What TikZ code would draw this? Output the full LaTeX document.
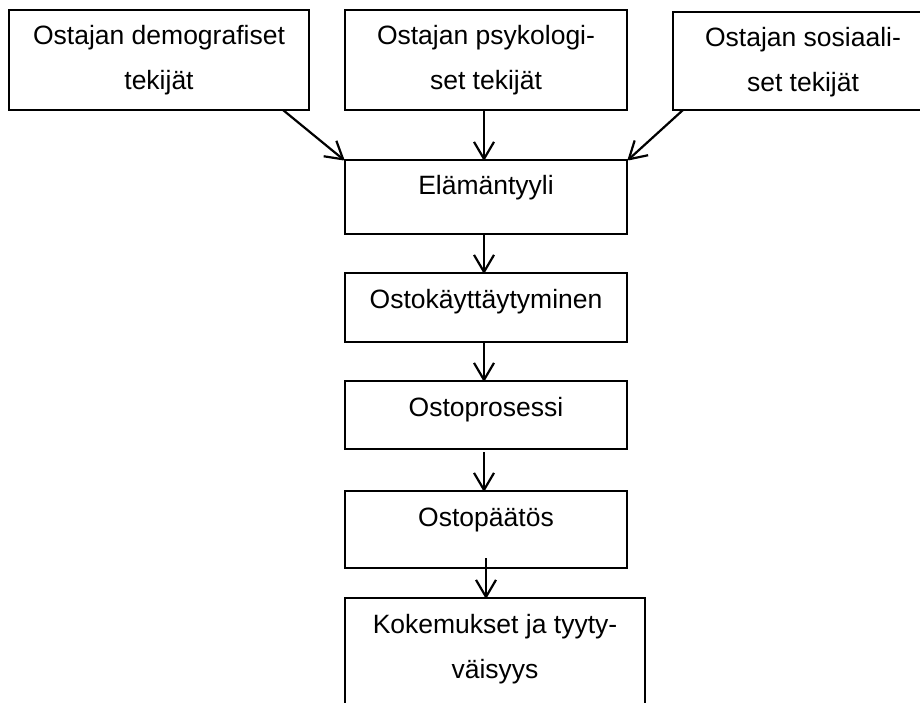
\documentclass[tikz,border=0pt]{standalone}
\usepackage{fontspec}
\setmainfont{Liberation Sans}
\usetikzlibrary{arrows.meta,calc}
\newcommand{\bxtext}[3]{\parbox[t][#2pt][t]{#1pt}{\centering\fontsize{26.5}{45}\selectfont\rule{0pt}{35pt}#3}}
\begin{document}
\begin{tikzpicture}[x=1pt,y=-1pt,
  box/.style={draw=black, line width=1.5pt, inner sep=0pt, outer sep=0pt, anchor=north west},
  conn/.style={line width=2.2pt, -{Straight Barb[length=17pt,width=20pt,line width=2.2pt,line join=round]}}]
\useasboundingbox[fill=white] (0,0) rectangle (920,703);
\node[box] (d) at (9,10) {\bxtext{300}{100}{Ostajan demografiset\\tekijät}};
\node[box] (p) at (345,10) {\bxtext{282}{100}{Ostajan psykologi-\\set tekijät}};
\node[box] (s) at (673,12) {\bxtext{260}{98}{Ostajan sosiaali-\\set tekijät}};
\node[box] (e) at (345,160) {\bxtext{282}{74}{Elämäntyyli}};
\node[box] (ok) at (345,273) {\bxtext{282}{69}{Ostokäyttäytyminen}};
\node[box] (op) at (345,381) {\bxtext{282}{68}{Ostoprosessi}};
\node[box] (opa) at (345,491) {\bxtext{282}{77}{Ostopäätös}};
\node[box] (k) at (345,598) {\bxtext{300}{120}{Kokemukset ja tyyty-\\väisyys}};
\draw[conn] ($(d.south east)+(-26,0)$) -- ($(e.north west)+(-1,0)$);
\draw[conn] ($(p.south)+(-2,0)$) -- ($(e.north)+(-2,0)$);
\draw[conn] ($(s.south west)+(10,0)$) -- ($(e.north east)+(1,0)$);
\draw[conn] ($(e.south)+(-2,0)$) -- ($(ok.north)+(-2,0)$);
\draw[conn] ($(ok.south)+(-2,0)$) -- ($(op.north)+(-2,0)$);
\draw[conn] ($(op.south)+(-2,3)$) -- ($(opa.north)+(-2,0)$);
\draw[conn] ($(opa.south)+(0,-10)$) -- ($(k.north)+(-9,0)$);
\end{tikzpicture}
\end{document}
